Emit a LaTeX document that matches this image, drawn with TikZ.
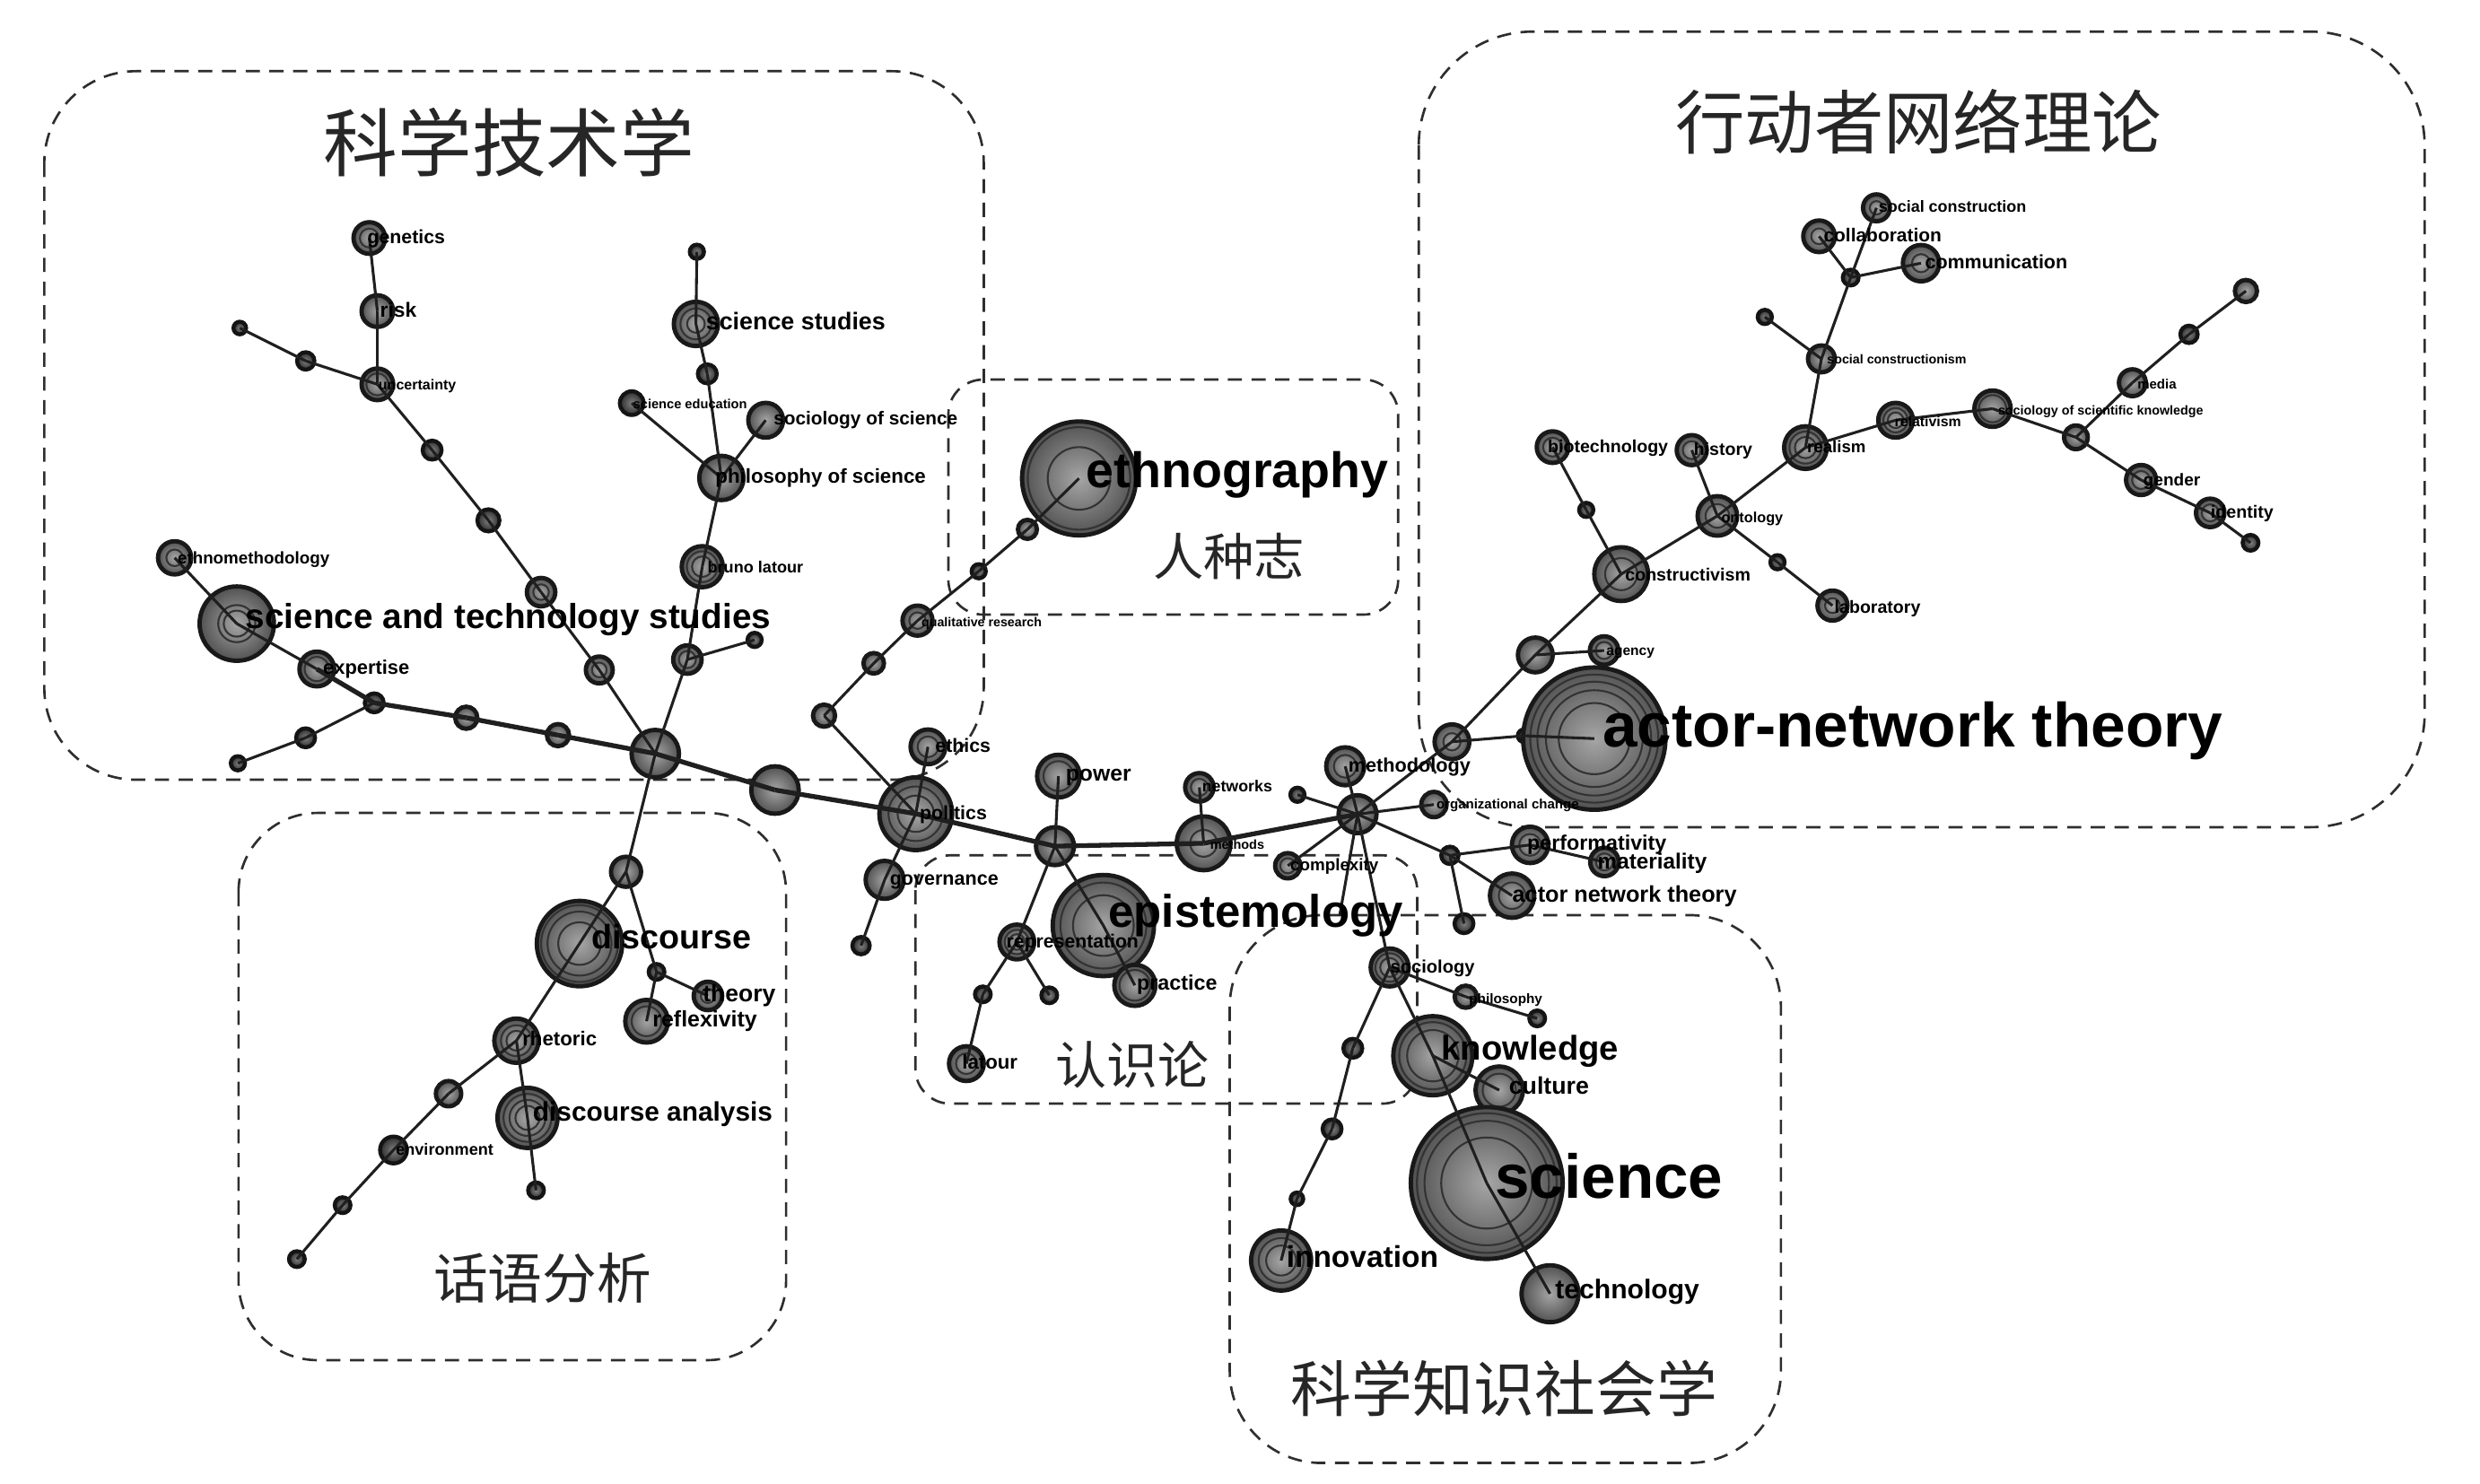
\documentclass[tikz,border=0pt]{standalone}
\usepackage{fontspec}
\usepackage{graphicx}
\setsansfont{Liberation Sans}
\newfontfamily\cjk{Noto Sans CJK SC}
\newlength\ux \setlength\ux{0.2mm}
\tikzset{
  nd/.style={circle, inner sep=0pt, draw=black!90, line width=0.55mm, inner color=black!35, outer color=black!68},
  sm/.style={circle, inner sep=0pt, draw=black!92, line width=0.5mm, inner color=black!50, outer color=black!82},
  ring/.style={draw=black!80, line width=0.24mm},
  ed/.style={draw=black!88, line width=0.35mm},
  spn/.style={draw=black!88, line width=0.6mm},
  dbox/.style={draw=black!82, line width=0.3mm, dash pattern=on 1.8mm off 1.2mm},
  lab/.style={anchor=west, inner sep=0pt, text=black, font=\sffamily\bfseries},
  ttl/.style={inner sep=0pt, text=black!85},
}
\newcommand\nd[4]{\node[nd, minimum size={#4*0.4mm}] (#1) at (#2,#3) {};}
\newcommand\ns[4]{\node[sm, minimum size={#4*0.4mm}] (#1) at (#2,#3) {};}
\newcommand\rg[3]{\foreach \ringf in {#3} {\draw[ring] (#1.center) circle[radius={\ringf*#2*0.2mm}];}}
\newcommand\lb[5]{\node[lab] (l#1) at (#2,#3) {\resizebox{#4\ux}{!}{\strut #5}};}
\begin{document}
\begin{tikzpicture}[x=0.2mm,y=-0.2mm]
\fill[white] (0,0) rectangle (1568,938);
\useasboundingbox (0,0) rectangle (1568,938);
% dashed boxes
\draw[dbox, rounded corners=11.6mm] (28,45) rectangle (622,493);
\draw[dbox, rounded corners=14.4mm] (897,20) rectangle (1533,523);
\draw[dbox, rounded corners=4.4mm] (599.6,240) rectangle (884,388.6);
\draw[dbox, rounded corners=4.4mm] (578.8,540.8) rectangle (896,697.8);
\draw[dbox, rounded corners=10mm] (150.8,514) rectangle (497,860);
\draw[dbox, rounded corners=11.6mm] (777.5,578.6) rectangle (1126,925);
% ---------- nodes: top-left
\nd{gen}{233.5}{150.5}{10} \rg{gen}{10}{0.6}
\nd{risk}{238.6}{196.7}{10}
\nd{unc}{238.6}{243}{10} \rg{unc}{10}{0.7}
\ns{tla}{151.6}{207.4}{4}
\ns{tlb}{193.3}{228.2}{5.5}
\ns{tlc}{273.2}{284.6}{6}
\ns{tld}{308.8}{329}{7}
\nd{tle}{342.1}{374.4}{9} \rg{tle}{9}{0.55}
\nd{tlf}{378.9}{423.6}{8.5} \rg{tlf}{8.5}{0.55}
\nd{hubA}{414.3}{476.5}{15}
\nd{ethm}{110.4}{352.7}{10.5} \rg{ethm}{10.5}{0.5}
\nd{sts}{149.7}{394.3}{23.5} \rg{sts}{23.5}{0.5,0.35}
\nd{expe}{200.3}{423}{11} \rg{expe}{11}{0.7}
\ns{jnA}{236.6}{444.4}{6}
\ns{tlg}{193.2}{466.5}{6}
\ns{tlh}{150.4}{482.6}{4.5}
\nd{tli}{294.8}{453.8}{7}
\nd{tlj}{352.8}{464.8}{7}
\ns{ssl}{440.6}{159.2}{4.5}
\nd{ss}{440}{204.8}{14} \rg{ss}{14}{0.7,0.4}
\ns{ssb}{447.2}{236.4}{6}
\ns{sed}{399.4}{254.9}{7.5}
\nd{sos}{484.1}{265.7}{11}
\nd{pos}{456.1}{302.2}{14}
\nd{bl}{444}{358.3}{13} \rg{bl}{13}{0.75,0.5}
\nd{blb}{434.6}{417}{9} \rg{blb}{9}{0.6}
\ns{blc}{477.1}{404.6}{4.5}
% ---------- bottom-left
\nd{dA}{395.8}{551.2}{9.5}
\nd{disc}{366.4}{596.6}{27} \rg{disc}{27}{0.9,0.75,0.5}
\ns{dj}{415.1}{614.5}{5}
\nd{theo}{447.6}{629.7}{9} \rg{theo}{9}{0.5}
\nd{refl}{408.8}{645.7}{13.5} \rg{refl}{13.5}{0.7}
\nd{rhet}{326.5}{658}{14} \rg{rhet}{14}{0.7,0.45}
\nd{bln}{283.6}{691.5}{8}
\nd{da}{333.5}{706.8}{19} \rg{da}{19}{0.8,0.6,0.4}
\ns{env}{248.8}{727.1}{8.5}
\ns{dleaf}{338.9}{752.6}{5}
\ns{bnb}{216.6}{762}{5}
\ns{bnc}{187.7}{796.1}{5}
% ---------- middle
\nd{mA}{490}{499.5}{15}
\nd{pol}{579}{514.5}{23} \rg{pol}{23}{0.75,0.5}
\nd{eth}{586.7}{472.2}{11} \rg{eth}{11}{0.6}
\nd{gov}{559.3}{556.3}{12}
\ns{gl}{544.4}{597.9}{5.5}
\nd{mqa}{521}{452.5}{7}
\nd{mqb}{552.4}{419.4}{6.5}
\nd{qr}{580.1}{392.4}{9.5} \rg{qr}{9.5}{0.55}
\ns{ql}{618.8}{361.2}{4.5}
\nd{mqc}{649.6}{334.7}{6}
\nd{ethno}{682.2}{302.5}{36} \rg{ethno}{36}{0.9,0.55}
\nd{pj}{667}{535}{12}
\nd{pow}{669.2}{490.7}{13.5} \rg{pow}{13.5}{0.7}
\nd{epi}{697.6}{585.2}{32} \rg{epi}{32}{0.85,0.6}
\nd{prac}{717.5}{623}{13} \rg{prac}{13}{0.75}
\nd{rep}{642.9}{595.6}{11} \rg{rep}{11}{0.7,0.45}
\ns{rla}{621.4}{628.7}{5}
\ns{rlb}{663.4}{629.3}{5}
\nd{lat}{611}{672.5}{11} \rg{lat}{11}{0.6}
\nd{meth}{761}{533.2}{17} \rg{meth}{17}{0.5}
\nd{netw}{758.3}{497.8}{9} \rg{netw}{9}{0.6}
\nd{hubB}{858.3}{514.8}{12}
\nd{mdl}{850.5}{484.5}{12} \rg{mdl}{12}{0.6}
\ns{hl}{820.3}{502.5}{4.5}
\nd{orgc}{906.6}{508.7}{8}
\nd{cplx}{814.2}{547.4}{8} \rg{cplx}{8}{0.6}
\coordinate (epc) at (847,579);
\ns{pn}{916.7}{540.8}{5.5}
\nd{perf}{967.4}{534.2}{11.5} \rg{perf}{11.5}{0.6}
\nd{mat}{1014.4}{545}{9} \rg{mat}{9}{0.6}
\nd{antb}{956}{566.3}{14} \rg{antb}{14}{0.6}
\ns{pnb}{925.6}{584}{6}
\nd{soc}{878.6}{611.7}{12} \rg{soc}{12}{0.75,0.5}
\nd{phil}{926.7}{630.2}{7}
\ns{phl}{971.9}{643.9}{5}
\nd{know}{905.9}{667.5}{25} \rg{know}{25}{0.85,0.65}
\nd{cult}{947.9}{689.3}{15} \rg{cult}{15}{0.7}
\nd{sci}{940}{748}{48} \rg{sci}{48}{0.92,0.82,0.6}
\nd{tech}{980}{818}{18}
\ns{sna}{855.3}{662.8}{6}
\ns{snb}{842.2}{713.8}{6}
\ns{snc}{820}{758}{4}
\nd{inno}{810}{797}{19} \rg{inno}{19}{0.75,0.5}
% ---------- ANT cluster
\nd{ana}{918}{469}{11} \rg{ana}{11}{0.5}
\ns{anl}{963.6}{465.2}{4}
\nd{ant}{1008}{467}{45} \rg{ant}{45}{0.9,0.8,0.68,0.5}
\nd{anb}{970.7}{414.1}{11}
\nd{agc}{1014.2}{411.3}{9} \rg{agc}{9}{0.6}
\nd{cons}{1025}{363}{17} \rg{cons}{17}{0.6}
\ns{bleaf}{1002.9}{322.4}{4.5}
\nd{bio}{981.6}{282.7}{10} \rg{bio}{10}{0.6}
\nd{ont}{1085.8}{326.2}{12.5} \rg{ont}{12.5}{0.6}
\nd{hist}{1069.6}{284.6}{9.5} \rg{hist}{9.5}{0.6}
\ns{oleaf}{1123.8}{355.5}{4.5}
\nd{labo}{1158.6}{382.9}{9.5} \rg{labo}{9.5}{0.5}
\nd{real}{1141.5}{283}{13.5} \rg{real}{13.5}{0.75,0.5}
\nd{rel}{1198.5}{265.7}{11} \rg{rel}{11}{0.7,0.45}
\nd{ssk}{1259.8}{258.4}{11.5} \rg{ssk}{11.5}{0.75}
\nd{skn}{1312.5}{276.5}{7.5}
\nd{gend}{1353.7}{303.5}{9.5} \rg{gend}{9.5}{0.6}
\nd{iden}{1397.4}{324.3}{9} \rg{iden}{9}{0.6}
\ns{ileaf}{1422.9}{343.2}{5}
\nd{med}{1348.2}{242}{8.5}
\ns{mn}{1384}{211.4}{5.5}
\nd{mtop}{1420}{184}{7}
\nd{scm}{1151.6}{226.9}{8.5}
\ns{scl}{1115.8}{200.4}{4.5}
\ns{cj}{1170.1}{175.5}{5}
\nd{coll}{1150.1}{149.4}{10} \rg{coll}{10}{0.5}
\nd{scon}{1186.4}{131.4}{8.5} \rg{scon}{8.5}{0.5}
\nd{comm}{1214.6}{166.4}{11.5} \rg{comm}{11.5}{0.5}
% ---------- edges
\foreach \a/\b in {gen/risk, risk/unc, tla/tlb, tlb/unc, unc/tlc, tlc/tld, tld/tle, tle/tlf, tlf/hubA,
  ethm/sts, sts/expe, jnA/tlg, tlg/tlh,
  ssl/ss, ss/ssb, ssb/pos, sed/pos, sos/pos, pos/bl, bl/blb, blb/blc, blb/hubA,
  hubA/dA, dA/disc, disc/rhet, dA/dj, dj/theo, dj/refl, rhet/bln, bln/env, env/bnb, bnb/bnc, rhet/da, da/dleaf,
  pol/eth, pol/gov, gov/gl, pol/mqa, mqa/mqb, mqb/qr, qr/ql, ql/mqc, mqc/ethno,
  pj/pow, pj/rep, pj/epi, epi/prac, rep/rla, rla/lat, rep/rlb,
  meth/netw, hubB/mdl, hubB/hl, hubB/orgc, hubB/cplx, hubB/epc, hubB/soc, hubB/pn,
  pn/perf, perf/mat, pn/antb, pn/pnb, hubB/ana, ana/anl, anl/ant, ana/anb,
  soc/phil, phil/phl, soc/know, know/sci, sci/tech, know/cult, soc/sna, sna/snb, snb/snc, snc/inno,
  anb/agc, anb/cons, cons/bleaf, bleaf/bio, cons/ont, ont/hist, ont/oleaf, oleaf/labo, ont/real,
  real/rel, rel/ssk, ssk/skn, skn/gend, gend/iden, iden/ileaf, skn/med, med/mn, mn/mtop,
  real/scm, scm/scl, scm/cj, cj/coll, cj/scon, cj/comm}
  \draw[ed] (\a.center) -- (\b.center);
\foreach \a/\b in {expe/jnA, jnA/tli, tli/tlj, tlj/hubA, hubA/mA, mA/pol, pol/pj, pj/meth, meth/hubB}
  \draw[spn] (\a.center) -- (\b.center);
% ---------- labels
\lb{gen}{232}{151}{49}{genetics}
\lb{risk}{240}{197.5}{23}{risk}
\lb{unc}{239}{244.5}{49}{uncertainty}
\lb{ethm}{112}{354}{96}{ethnomethodology}
\lb{sts}{155}{392}{332}{science and technology studies}
\lb{expe}{204}{423.6}{54.5}{expertise}
\lb{ss}{446}{204.6}{113.5}{science studies}
\lb{sed}{400}{256.2}{72}{science education}
\lb{sos}{488.8}{265.7}{116.3}{sociology of science}
\lb{pos}{452}{302.6}{133}{philosophy of science}
\lb{bl}{447}{359.7}{60.5}{bruno latour}
\lb{disc}{373.5}{594.7}{101}{discourse}
\lb{theo}{444}{630}{46}{theory}
\lb{refl}{412.3}{645.8}{66}{reflexivity}
\lb{rhet}{330}{658.4}{47}{rhetoric}
\lb{da}{336.6}{705}{151.5}{discourse analysis}
\lb{env}{250}{728}{61.6}{environment}
\lb{ethno}{686.5}{300.7}{191}{ethnography}
\lb{qr}{582.3}{394.3}{76}{qualitative research}
\lb{eth}{591}{472.7}{35}{ethics}
\lb{pol}{581.2}{515.3}{42.4}{politics}
\lb{gov}{562.3}{556.9}{68.6}{governance}
\lb{pow}{673.5}{490.7}{41.3}{power}
\lb{netw}{759.7}{498.3}{44.3}{networks}
\lb{meth}{764.8}{535.1}{34.2}{methods}
\lb{mdl}{852.2}{485}{77.2}{methodology}
\lb{orgc}{907.9}{509.6}{90}{organizational change}
\lb{cplx}{815.5}{548}{55.7}{complexity}
\lb{epi}{700.6}{579.6}{186}{epistemology}
\lb{rep}{636}{596.6}{83.5}{representation}
\lb{prac}{718.5}{623}{50.7}{practice}
\lb{lat}{608}{672.8}{35}{latour}
\lb{soc}{878.8}{612.7}{53.2}{sociology}
\lb{phil}{928.5}{632.5}{46.3}{philosophy}
\lb{perf}{965.3}{534.5}{88}{performativity}
\lb{mat}{1009.8}{546}{69}{materiality}
\lb{antb}{955.9}{566.9}{141.8}{actor network theory}
\lb{know}{911}{665}{112}{knowledge}
\lb{cult}{953.7}{688.3}{50.6}{culture}
\lb{sci}{945}{748}{144}{science}
\lb{tech}{983}{817}{91}{technology}
\lb{inno}{813}{797}{96}{innovation}
\lb{ant}{1013}{463}{392}{actor-network theory}
\lb{scon}{1187.5}{132}{93.3}{social construction}
\lb{coll}{1152.7}{149.8}{74.5}{collaboration}
\lb{comm}{1216.8}{166.8}{90}{communication}
\lb{scm}{1154.9}{227.9}{88}{social constructionism}
\lb{real}{1142.3}{283.6}{37}{realism}
\lb{rel}{1197.6}{267.6}{42}{relativism}
\lb{ssk}{1263}{260.4}{129.7}{sociology of scientific knowledge}
\lb{med}{1351.1}{243.6}{24.6}{media}
\lb{gend}{1354.8}{304.4}{36}{gender}
\lb{iden}{1397.4}{324.9}{39.7}{identity}
\lb{bio}{978.3}{283.6}{76}{biotechnology}
\lb{hist}{1070.6}{285.5}{37}{history}
\lb{ont}{1088}{328}{39}{ontology}
\lb{cons}{1027.2}{364.6}{79.2}{constructivism}
\lb{labo}{1159.6}{384.8}{54.3}{laboratory}
\lb{agc}{1015.3}{412.2}{30.4}{agency}
% ---------- titles
\node[ttl, font={\cjk\fontsize{26.7pt}{30pt}\selectfont}] (t1) at (322,90) {科学技术学};
\node[ttl, font={\cjk\fontsize{25pt}{28pt}\selectfont}] (t2) at (1213,77) {行动者网络理论};
\node[ttl, font={\cjk\fontsize{18.2pt}{21pt}\selectfont}] (t3) at (777,352) {人种志};
\node[ttl, font={\cjk\fontsize{18.4pt}{21pt}\selectfont}] (t4) at (716,673) {认识论};
\node[ttl, font={\cjk\fontsize{19.6pt}{22pt}\selectfont}] (t5) at (343,808) {话语分析};
\node[ttl, font={\cjk\fontsize{21.9pt}{25pt}\selectfont}] (t6) at (951,878) {科学知识社会学};
\end{tikzpicture}
\end{document}
